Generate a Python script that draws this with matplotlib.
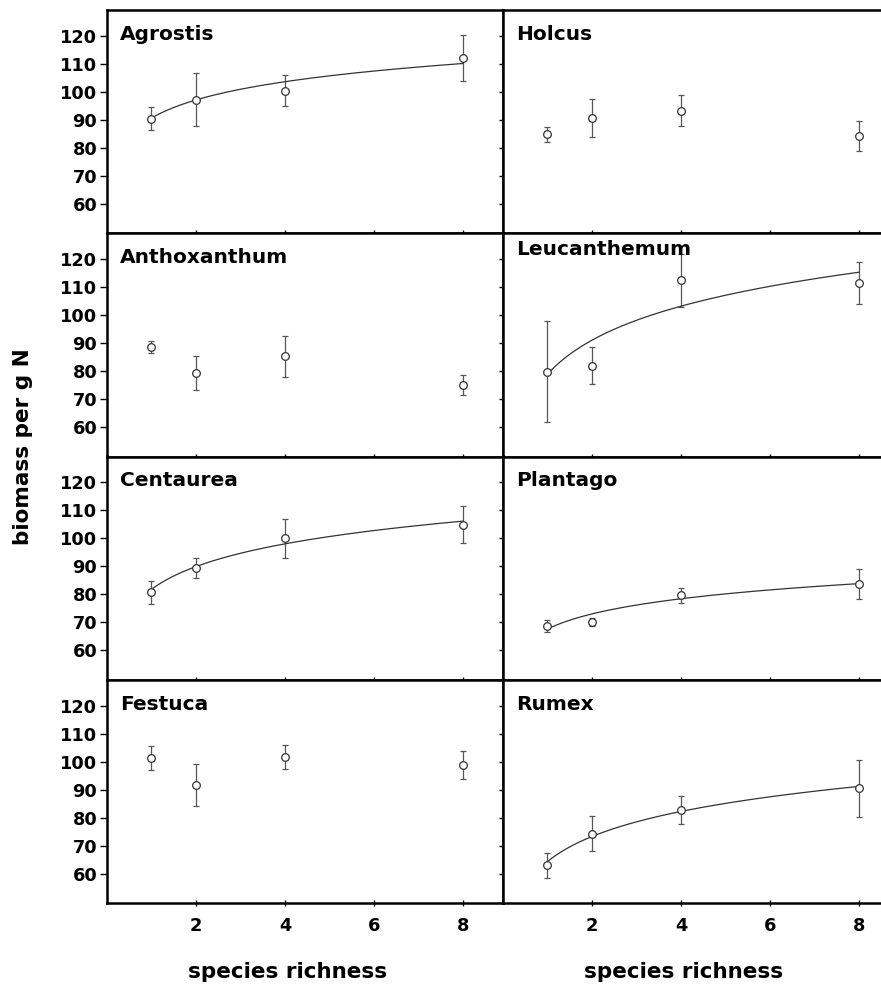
import matplotlib
matplotlib.use("Agg")
import numpy as np
import matplotlib.pyplot as plt
from matplotlib.transforms import blended_transform_factory

plt.rcParams['font.family'] = ['DejaVu Sans']
plt.rcParams['font.weight'] = 'bold'

richness = [1, 2, 4, 8]

# panel order: (row, col)
species = ["Agrostis", "Holcus", "Anthoxanthum", "Leucanthemum",
           "Centaurea", "Plantago", "Festuca", "Rumex"]

means = {
    "Agrostis":     [90.4, 97.2, 100.4, 112.0],
    "Holcus":       [84.8, 90.6, 93.2, 84.3],
    "Anthoxanthum": [88.6, 79.3, 85.2, 75.0],
    "Leucanthemum": [79.8, 81.9, 112.4, 111.5],
    "Centaurea":    [80.8, 89.3, 100.0, 104.9],
    "Plantago":     [68.7, 70.1, 79.6, 83.8],
    "Festuca":      [101.3, 91.5, 101.7, 98.6],
    "Rumex":        [62.9, 74.3, 82.7, 90.4],
}
errors = {
    "Agrostis":     [4.2, 9.5, 5.5, 8.2],
    "Holcus":       [2.7, 6.8, 5.5, 5.4],
    "Anthoxanthum": [2.1, 6.2, 7.3, 3.6],
    "Leucanthemum": [18.0, 6.6, 9.4, 7.5],
    "Centaurea":    [4.1, 3.6, 7.0, 6.5],
    "Plantago":     [2.3, 1.5, 2.7, 5.4],
    "Festuca":      [4.3, 7.5, 4.3, 5.0],
    "Rumex":        [4.6, 6.1, 5.0, 10.3],
}
# logarithmic fit lines: y = a + b*ln(x), only for significant species
fit_a = {"Agrostis": 90.6, "Leucanthemum": 78.9, "Centaurea": 81.8,
         "Plantago": 67.6, "Rumex": 64.3}
fit_b = {"Agrostis": 9.38, "Leucanthemum": 17.5, "Centaurea": 11.7,
         "Plantago": 7.8, "Rumex": 12.9}

yticks = [60, 70, 80, 90, 100, 110, 120]
xticks = [2, 4, 6, 8]

W, H = 881, 986
fig = plt.figure(figsize=(W / 100, H / 100), dpi=100)

row_h = 223.25
top0 = 10
col_x = [107, 503]
ax_w = 396

axes = []
for i, name in enumerate(species):
    r, c = divmod(i, 2)
    top = top0 + r * row_h
    rect = [col_x[c] / W, 1 - (top + row_h) / H, ax_w / W, row_h / H]
    ax = fig.add_axes(rect)
    axes.append(ax)
    ax.set_xlim(0, 8.9)
    ax.set_ylim(49.5, 129.2)
    for s in ax.spines.values():
        s.set_linewidth(1.8)
        s.set_color('black')
    ax.set_xticks(xticks)
    ax.set_yticks(yticks)
    ax.tick_params(axis='x', direction='inout', length=4, width=1, pad=8,
                   labelsize=12.8, labelbottom=(r == 3))
    if c == 0:
        ax.tick_params(axis='y', direction='out', length=5, width=1, pad=2,
                       labelsize=12.8)
    else:
        ax.tick_params(axis='y', direction='out', length=3, width=1,
                       labelleft=False)
    for lab in ax.get_xticklabels() + ax.get_yticklabels():
        lab.set_fontweight('bold')

    y = means[name]
    e = errors[name]
    ax.errorbar(richness, y, yerr=e, fmt='none', ecolor='#555555',
                elinewidth=0.9, capsize=2.2, capthick=0.9, zorder=2)
    if name in fit_a:
        xs = np.linspace(1, 8, 200)
        ax.plot(xs, fit_a[name] + fit_b[name] * np.log(xs), color='#333333',
                lw=0.9, zorder=3)
    ax.plot(richness, y, 'o', ms=5.5, mfc='white', mec='#333333', mew=0.9,
            zorder=4)

    ty = 0.901 if name == "Leucanthemum" else 0.866
    ax.text(0.033, ty, name, transform=ax.transAxes, fontsize=14.5,
            fontweight='bold', ha='left', va='baseline', zorder=5)

fig.text(23 / W, 1 - 447 / H, "biomass per g N", rotation=90, fontsize=15.5,
         fontweight='bold', ha='center', va='center')

for ax in axes[6:8]:
    tr = blended_transform_factory(ax.transData, fig.transFigure)
    ax.text(4.05, 1 - 972 / H, "species richness", transform=tr,
            fontsize=15.5, fontweight='bold', ha='center', va='center',
            clip_on=False)

fig.savefig("out.png", dpi=100)
